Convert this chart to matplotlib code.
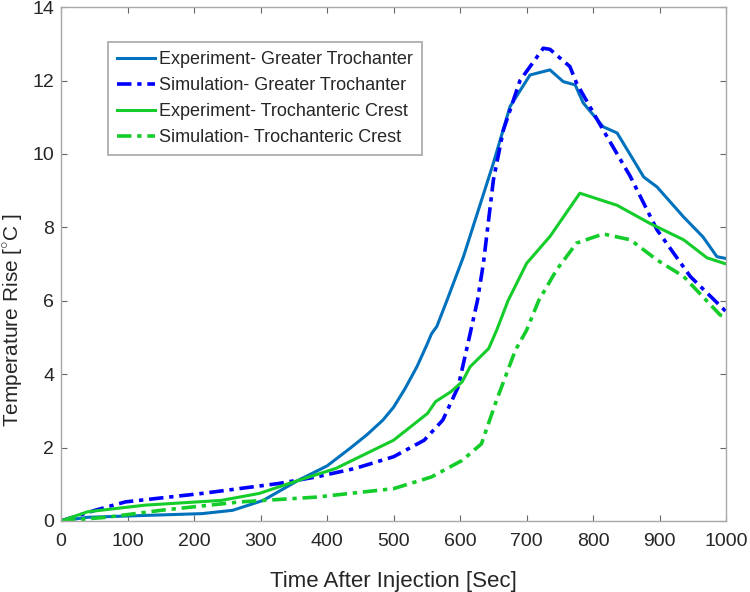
import matplotlib
matplotlib.use("Agg")
import matplotlib.pyplot as plt

plt.rcParams['font.family'] = ['Liberation Sans', 'DejaVu Sans']
plt.rcParams['mathtext.fontset'] = 'custom'
plt.rcParams['mathtext.rm'] = 'Liberation Sans'

# Experiment - Greater Trochanter
exp_gt_t = [0, 40, 126, 212, 258, 304, 356, 400, 436, 460, 484, 500, 517, 535, 550, 557, 565, 580, 605, 650, 675, 705, 735, 755, 773, 785, 815, 836, 876, 896, 936, 965, 986, 1000]
exp_gt_y = [0.0, 0.1, 0.15, 0.2, 0.29, 0.56, 1.1, 1.5, 2.0, 2.35, 2.75, 3.1, 3.6, 4.2, 4.8, 5.1, 5.3, 6.0, 7.2, 9.75, 11.29, 12.15, 12.29, 11.97, 11.88, 11.39, 10.74, 10.57, 9.37, 9.1, 8.28, 7.74, 7.2, 7.15]

# Simulation - Greater Trochanter
sim_gt_t = [0, 51, 97, 212, 327, 384, 442, 500, 546, 574, 597, 615, 626, 635, 650, 665, 690, 725, 735, 765, 775, 815, 856, 896, 946, 1000]
sim_gt_y = [0.0, 0.29, 0.52, 0.75, 1.02, 1.2, 1.43, 1.75, 2.2, 2.75, 3.65, 5.1, 6.0, 7.02, 9.29, 10.65, 12.0, 12.88, 12.85, 12.38, 11.93, 10.65, 9.38, 7.93, 6.66, 5.7]

# Experiment - Trochanteric Crest
exp_tc_t = [0, 40, 126, 241, 298, 356, 413, 500, 551, 563, 586, 603, 615, 643, 655, 672, 700, 735, 780, 836, 886, 936, 971, 1000]
exp_tc_y = [0.0, 0.25, 0.43, 0.56, 0.75, 1.1, 1.43, 2.2, 2.93, 3.25, 3.52, 3.79, 4.2, 4.7, 5.2, 6.0, 7.02, 7.75, 8.93, 8.6, 8.1, 7.66, 7.17, 7.0]

# Simulation - Trochanteric Crest
sim_tc_t = [0, 68, 155, 270, 384, 500, 557, 603, 632, 655, 683, 700, 718, 745, 775, 815, 856, 896, 936, 991, 1000]
sim_tc_y = [0.0, 0.1, 0.3, 0.52, 0.65, 0.88, 1.2, 1.65, 2.1, 3.3, 4.65, 5.2, 6.0, 6.84, 7.57, 7.82, 7.66, 7.11, 6.66, 5.61, 5.55]

labels = ['Experiment- Greater Trochanter', 'Simulation- Greater Trochanter',
          'Experiment- Trochanteric Crest', 'Simulation- Trochanteric Crest']
x_ticks = [0, 100, 200, 300, 400, 500, 600, 700, 800, 900, 1000]
y_ticks = [0, 2, 4, 6, 8, 10, 12, 14]

fig = plt.figure(figsize=(7.5, 5.92), dpi=100)
ax = fig.add_axes([0.0813, 0.12, 0.887, 0.868])

c_exp_gt = '#0072BD'
c_sim_gt = '#0000FF'
c_green = '#14CC2A'
dashdot = (0, (4, 1.6, 1.2, 1.6))

ax.plot(exp_gt_t, exp_gt_y, color=c_exp_gt, lw=2.2, ls='-', label=labels[0])
ax.plot(sim_gt_t, sim_gt_y, color=c_sim_gt, lw=2.6, ls=dashdot, label=labels[1])
ax.plot(exp_tc_t, exp_tc_y, color=c_green, lw=2.2, ls='-', label=labels[2])
ax.plot(sim_tc_t, sim_tc_y, color=c_green, lw=2.6, ls=dashdot, label=labels[3])

ax.set_xlim(0, 1000)
ax.set_ylim(0, 14)
ax.set_xticks(x_ticks)
ax.set_yticks(y_ticks)
ax.tick_params(direction='in', top=True, right=True, length=4, width=0.8,
               color='#666666', labelcolor='#262626', labelsize=14)
ax.tick_params(axis='x', pad=9)
ax.tick_params(axis='y', pad=5)
for s in ax.spines.values():
    s.set_color('#a8a8a8')
    s.set_linewidth(1.0)

ax.set_xlabel('Time After Injection [Sec]', fontsize=16, color='#262626')
ax.xaxis.set_label_coords(0.5, -0.097)
ax.set_ylabel('Temperature Rise [$^{\\circ}$C ]', fontsize=15, color='#262626')
ax.yaxis.set_label_coords(-0.054, 0.39)

leg = ax.legend(loc='upper left', bbox_to_anchor=(0.0707, 0.932), fontsize=13,
                frameon=True, fancybox=False, edgecolor='#a0a0a0',
                handlelength=2.1, handletextpad=0.25, borderpad=0.5,
                labelspacing=0.5, borderaxespad=0)
leg.get_frame().set_linewidth(1.4)
for t in leg.get_texts():
    t.set_color('#262626')

fig.savefig('out.png', dpi=100)
